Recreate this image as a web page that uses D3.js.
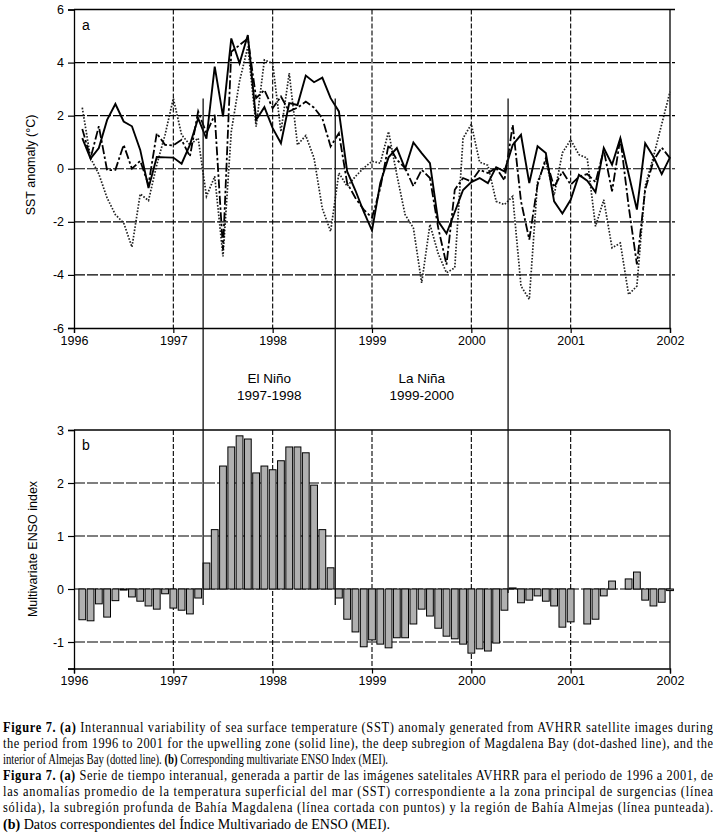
<!DOCTYPE html>
<html>
<head>
<meta charset="utf-8">
<script src="https://cdn.jsdelivr.net/npm/d3@7"></script>
<style>
  body { margin: 0; background: #fff; }
  svg { display: block; }
  .tick text { font-family: "Liberation Sans Narrow", "Arial Narrow", "Liberation Sans", Arial, sans-serif; font-size: 12.5px; fill: #000; }
  .lbl { font-family: "Liberation Sans", Arial, sans-serif; fill: #000; }
  .cap { font-family: "Liberation Serif", "Times New Roman", serif; font-size: 14px; fill: #000; }
</style>
</head>
<body>
<svg id="fig" width="717" height="840"></svg>
<script>
// monthly values, Jan 1996 .. Dec 2001
const sstUpwelling = [1.15, 0.38, 0.78, 1.84, 2.44, 1.78, 1.6, 0.71, -0.73, 0.44, 0.43, 0.42,
    0.19, 0.9, 1.9, 1.13, 3.85, 1.97, 4.91, 3.97, 5.04, 1.84, 2.32, 1.53,
    0.96, 2.47, 2.4, 3.51, 3.26, 3.43, 2.66, 2.16, -0.1, -0.82, -1.62, -2.33,
    -0.54, 0.43, 0.78, 0.0, 0.99, 0.59, 0.21, -1.98, -2.44, -1.63, -0.8, -0.5,
    -0.35, -0.54, 0.06, -0.1, 0.9, 1.28, -0.54, 0.85, 0.59, -1.23, -1.69, -1.17,
    -0.23, -0.45, -0.88, 0.78, 0.15, 1.15, -0.2, -1.54, 0.96, 0.45, -0.2, 0.43];
const sstMagdalena = [1.5, 0.4, 1.6, -0.06, -0.04, 0.9, 0.0, 0.3, -0.6, 1.34, 0.9, 0.88,
    1.09, 0.46, 2.16, 1.34, 2.03, -3.05, 4.41, 4.66, 4.91, 2.66, 2.97, 2.28,
    2.72, 2.16, 2.3, 2.53, 2.3, 1.9, 0.84, 1.34, -0.54, -1.1, -1.54, -1.85,
    -0.73, 0.9, 0.34, 0.03, -0.66, -0.04, -0.35, -2.23, -3.61, -0.79, -0.35, -0.48,
    -0.04, -0.16, 0.03, -0.44, 1.65, -1.23, -2.67, -0.6, 0.4, -0.7, -0.1, -0.6,
    -0.3, -0.2, -0.5, 0.7, -0.85, 1.15, -1.4, -3.6, -0.8, 0.3, 0.8, 0.4];
const sstAlmejas = [2.3, 0.4, -0.2, -1.1, -1.73, -2.04, -2.95, -0.95, -1.2, 0.15, 1.28, 2.65,
    1.28, 0.9, 1.15, -1.04, -0.29, -3.3, 1.4, 3.3, 4.6, 1.59, 4.1, 3.97,
    1.4, 3.6, 0.9, 1.25, 0.4, -1.5, -2.36, -0.16, -0.66, -0.29, 0.03, 0.28,
    0.21, 1.4, -0.23, -1.73, -2.23, -4.3, -2.1, -3.2, -3.92, -3.73, 1.15, 1.68,
    0.25, 0.13, -1.23, -1.35, -1.04, -4.42, -4.92, -0.5, 0.3, -1.0, 0.6, 1.09,
    0.53, 0.4, -2.17, -1.17, -2.98, -2.8, -4.74, -4.42, -0.66, 0.45, 1.68, 2.9];
const mei = [-0.58, -0.6, -0.28, -0.53, -0.22, -0.02, -0.15, -0.23, -0.32, -0.38, -0.09, -0.36,
    -0.4, -0.47, -0.17, 0.49, 1.12, 2.32, 2.68, 2.89, 2.83, 2.19, 2.32, 2.25,
    2.42, 2.68, 2.68, 2.57, 1.96, 1.12, 0.4, -0.17, -0.57, -0.81, -1.09, -0.96,
    -1.04, -1.11, -0.92, -0.92, -0.66, -0.38, -0.51, -0.74, -0.89, -0.94, -1.04, -1.21,
    -1.13, -1.17, -1.02, -0.4, 0.02, -0.26, -0.21, -0.13, -0.23, -0.32, -0.72, -0.62,
    0, -0.66, -0.57, -0.13, 0.15, 0, 0.19, 0.32, -0.21, -0.32, -0.25, -0.03];

const years = [1996, 1997, 1998, 1999, 2000, 2001, 2002];
const sstTicks = [-6, -4, -2, 0, 2, 4, 6];
const meiTicks = [-1.5, -1, 0, 1, 2, 3];
const eventDates = [1997.3, 1998.63, 2000.37];
const eventNames = [["El Niño", "1997-1998"], ["La Niña", "1999-2000"]];

const captionLines = [
    [["Figure 7.", true], [" ", false], ["(a)", true], [" Interannual variability of sea surface temperature (SST) anomaly generated from AVHRR satellite images during", false]],
    [["the period from 1996 to 2001 for the upwelling zone (solid line), the deep subregion of Magdalena Bay (dot-dashed line), and the", false]],
    [["interior of Almejas Bay (dotted line). ", false], ["(b)", true], [" Corresponding multivariate ENSO Index (MEI).", false]],
    [["Figura 7.", true], [" ", false], ["(a)", true], [" Serie de tiempo interanual, generada a partir de las imágenes satelitales AVHRR para el periodo de 1996 a 2001, de", false]],
    [["las anomalías promedio de la temperatura superficial del mar (SST) correspondiente a la zona principal de surgencias (línea", false]],
    [["sólida), la subregión profunda de Bahía Magdalena (línea cortada con puntos) y la región de Bahía Almejas (línea punteada).", false]],
    [["(b)", true], [" Datos correspondientes del Índice Multivariado de ENSO (MEI).", false]]
];
const captionWidths = [710, 710, 385, 710, 710, 710, 387];
const captionJustified = [true, true, false, true, true, true, false];

const svg = d3.select('#fig');
const monthX = (i) => 1996 + (i + 1) / 12;

const x = d3.scaleLinear().domain([1996, 2002]).range([74, 670]);
const yA = d3.scaleLinear().domain([-6, 6]).range([328, 9.5]);
const yB = d3.scaleLinear().domain([-1.5, 3]).range([668.5, 430]);

let panel = function (y, yTicks, gridY, gridRight) {
    const g = svg.append('g');
    const [y0, y1] = y.range();

    // grid
    g.selectAll('.gh').data(gridY).enter().append('line')
        .attr('x1', x(1996)).attr('x2', gridRight)
        .attr('y1', d => y(d)).attr('y2', d => y(d))
        .attr('stroke', '#000').attr('stroke-width', 1.1)
        .attr('stroke-dasharray', '11,2');
    g.selectAll('.gv').data(years.slice(1, -1)).enter().append('line')
        .attr('x1', d => x(d)).attr('x2', d => x(d))
        .attr('y1', y1).attr('y2', y0)
        .attr('stroke', '#000').attr('stroke-width', 1.1)
        .attr('stroke-dasharray', '5,2');

    // frame
    g.append('line').attr('x1', x(1996)).attr('x2', gridRight).attr('y1', y1).attr('y2', y1)
        .attr('stroke', '#000').attr('stroke-width', 1.3);
    g.append('line').attr('x1', x(2002)).attr('x2', x(2002)).attr('y1', y1).attr('y2', y0)
        .attr('stroke', '#000').attr('stroke-width', 1.3);

    const ax = g.append('g').attr('transform', `translate(${x(1996)},0)`)
        .call(d3.axisLeft(y).tickValues(yTicks).tickSizeOuter(0).tickSize(6).tickPadding(4)
            .tickFormat(d => Number.isInteger(d) ? String(d) : ''));
    const bx = g.append('g').attr('transform', `translate(0,${y0})`)
        .call(d3.axisBottom(x).tickValues(years).tickSizeOuter(0).tickSize(5).tickPadding(3)
            .tickFormat(d3.format('d')));
    [ax, bx].forEach(a => {
        a.selectAll('path.domain').attr('stroke', '#000').attr('stroke-width', 1.3);
        a.selectAll('.tick line').attr('stroke', '#000').attr('stroke-width', 1.2);
    });
    return g;
};

// panel a
const gA = panel(yA, sstTicks, [-4, -2, 0, 2, 4], 675);
const line = d3.line().x((d, i) => x(monthX(i))).y(d => yA(d));
gA.append('path').datum(sstAlmejas).attr('d', line)
    .attr('fill', 'none').attr('stroke', '#222').attr('stroke-width', 1.7)
    .attr('stroke-dasharray', '1.6,1.6');
gA.append('path').datum(sstMagdalena).attr('d', line)
    .attr('fill', 'none').attr('stroke', '#000').attr('stroke-width', 1.8)
    .attr('stroke-dasharray', '9,2.5,2.5,2.5');
gA.append('path').datum(sstUpwelling).attr('d', line)
    .attr('fill', 'none').attr('stroke', '#000').attr('stroke-width', 1.9);

// panel b
const gB = panel(yB, meiTicks, [-1, 0, 1, 2], 670);
const bw = (x(1997) - x(1996)) / 12 * 0.82;
gB.selectAll('.bar').data(mei).enter().append('rect')
    .attr('x', (d, i) => x(monthX(i)) - bw / 2)
    .attr('y', d => yB(Math.max(0, d)))
    .attr('width', bw)
    .attr('height', d => Math.abs(yB(d) - yB(0)))
    .attr('fill', '#b0b0b0').attr('stroke', '#000').attr('stroke-width', 1);

// panel letters and axis titles
svg.append('text').attr('class', 'lbl').attr('x', 82).attr('y', 30).attr('font-size', 14).text('a');
svg.append('text').attr('class', 'lbl').attr('x', 82).attr('y', 450).attr('font-size', 14).text('b');
svg.append('text').attr('class', 'lbl').attr('font-size', 12.5)
    .attr('transform', 'translate(35,165) rotate(-90)').attr('text-anchor', 'middle')
    .text('SST anomaly (°C)');
svg.append('text').attr('class', 'lbl').attr('font-size', 12.5)
    .attr('transform', 'translate(37,549) rotate(-90)').attr('text-anchor', 'middle')
    .text('Multivariate ENSO index');

// ENSO event markers
const eventEnds = [605, 605, 593];
svg.selectAll('.ev').data(eventDates).enter().append('line')
    .attr('x1', d => x(d)).attr('x2', d => x(d))
    .attr('y1', yA(2.65)).attr('y2', (d, i) => eventEnds[i])
    .attr('stroke', '#111').attr('stroke-width', 1.3);
eventNames.forEach((nm, i) => {
    const cx = (x(eventDates[i]) + x(eventDates[i + 1])) / 2;
    nm.forEach((t, j) => svg.append('text').attr('class', 'lbl').attr('font-size', 13.5)
        .attr('x', cx).attr('y', 383 + j * 17).attr('text-anchor', 'middle').text(t));
});

// caption: the printed caption is squeezed sideways; one common squeeze from
// the ragged last lines, then every line is stretched to its printed width
const capTexts = captionLines.map((parts, k) => {
    const t = svg.append('text').attr('class', 'cap')
        .attr('y', 732 + k * 16.1);
    parts.forEach(([s, b]) => t.append('tspan').attr('font-weight', b ? 'bold' : null).text(s));
    return t;
});
const ratios = capTexts
    .map((t, k) => captionJustified[k] ? null : captionWidths[k] / t.node().getBBox().width)
    .filter(r => r !== null);
const sx = d3.mean(ratios);
capTexts.forEach((t, k) => {
    t.attr('x', 3 / sx).attr('transform', `scale(${sx},1)`)
        .attr('textLength', captionWidths[k] / sx)
        .attr('lengthAdjust', captionJustified[k] ? 'spacing' : 'spacingAndGlyphs');
});
</script>
</body>
</html>
